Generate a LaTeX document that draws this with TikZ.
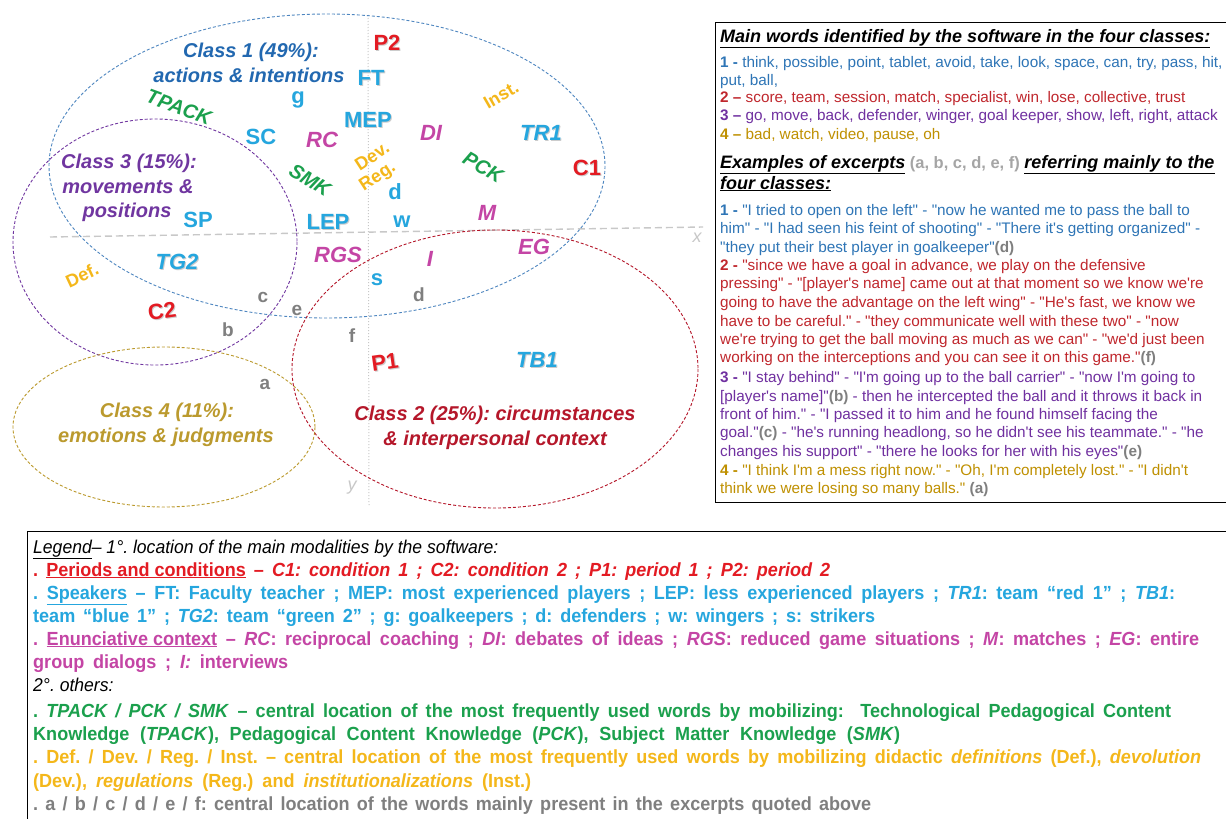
\documentclass[tikz,border=0pt]{standalone}
\usepackage{fontspec}
\setmainfont{Liberation Sans}[Ligatures=TeXOff]
\newfontfamily\narrowfont{Liberation Sans}[FakeStretch=0.95,Ligatures=TeXOff]
\definecolor{cOneBlue}{HTML}{2268B0}
\definecolor{spkBlue}{HTML}{25A6DE}
\definecolor{perRed}{HTML}{E31B23}
\definecolor{enMag}{HTML}{C445A5}
\definecolor{knGreen}{HTML}{1BA04D}
\definecolor{didOr}{HTML}{F4B71A}
\definecolor{cThree}{HTML}{7036A0}
\definecolor{cFour}{HTML}{BB9A2E}
\definecolor{cTwo}{HTML}{B5172A}
\definecolor{exGray}{HTML}{7F7F7F}
\definecolor{rbBlue}{HTML}{2E75B6}
\definecolor{rbRed}{HTML}{C0272D}
\definecolor{rbPurple}{HTML}{7030A0}
\definecolor{rbGold}{HTML}{BF9000}
\definecolor{axGray}{HTML}{C8C8C8}
\newcommand{\shd}[1]{\makebox[0pt][l]{\kern1pt\raisebox{-1pt}{\textcolor{black!20}{#1}}}#1}
\newcommand{\lgline}[2]{\makebox[#1pt][s]{#2}}
\tikzset{
  cls/.style={font=\bfseries\itshape\fontsize{20}{25}\selectfont, align=center, inner sep=0pt},
  code/.style={font=\bfseries\fontsize{22}{24}\selectfont, inner sep=0pt},
  codeit/.style={font=\bfseries\itshape\fontsize{22}{24}\selectfont, inner sep=0pt},
  did/.style={font=\bfseries\fontsize{18}{20}\selectfont, inner sep=0pt, text=didOr},
  know/.style={font=\bfseries\itshape\fontsize{20}{22}\selectfont, inner sep=0pt, text=knGreen},
  exl/.style={font=\bfseries\fontsize{19}{20}\selectfont, inner sep=0pt, text=exGray},
  classell/.style={dash pattern=on 3pt off 2pt, line width=0.9pt},
  rb/.style={anchor=base west, inner sep=0pt, font=\fontsize{15.3}{17}\selectfont},
  rbtitle/.style={anchor=base west, inner sep=0pt, font=\bfseries\itshape\fontsize{18}{20}\selectfont},
  lg/.style={anchor=base west, inner sep=0pt, font=\narrowfont\bfseries\fontsize{19}{21}\selectfont},
  lgit/.style={anchor=base west, inner sep=0pt, font=\narrowfont\itshape\fontsize{18.5}{21}\selectfont},
}
\begin{document}
\frenchspacing
\begin{tikzpicture}[x=1pt,y=-1pt]
\useasboundingbox (0,0) rectangle (1226,819);
\fill[white] (0,0) rectangle (1226,819);

% axes
\draw[axGray, line width=1.4pt, dash pattern=on 7pt off 4pt] (50,237) -- (703,227);
\draw[axGray, line width=1pt, dotted] (368,15) -- (369,505);
\node[font=\itshape\fontsize{18}{20}\selectfont, text=axGray] (xlab) at (697,238) {x};
\node[font=\itshape\fontsize{18}{20}\selectfont, text=axGray] (ylab) at (352,488) {y};

% class ellipses
\draw[classell, cOneBlue!80] (327,166) ellipse [x radius=278, y radius=152];
\draw[classell, cThree] (155,242) ellipse [x radius=142, y radius=123];
\draw[classell, cFour] (164,427) ellipse [x radius=151, y radius=80];
\draw[classell, cTwo] (495,369) ellipse [x radius=203, y radius=139];

% class titles
\node[cls, text=cOneBlue] (c1a) at (251,52) {Class 1 (49\%):};
\node[cls, text=cOneBlue] (c1b) at (249,75) {actions \& intentions};
\node[cls, text=cThree] (c3a) at (129,163) {Class 3 (15\%):};
\node[cls, text=cThree] (c3b) at (128,187) {movements \&};
\node[cls, text=cThree] (c3c) at (127,212) {positions};
\node[cls, text=cFour] (c4a) at (167,412) {Class 4 (11\%):};
\node[cls, text=cFour] (c4b) at (166,437) {emotions \& judgments};
\node[cls, text=cTwo] (c2a) at (495,415) {Class 2 (25\%): circumstances};
\node[cls, text=cTwo] (c2b) at (495,440) {\& interpersonal context};

% periods and conditions
\node[code, text=perRed] (P2) at (387,43) {\shd{P2}};
\node[code, text=perRed] (C1) at (587,168) {\shd{C1}};
\node[code, text=perRed, rotate=8] (C2) at (162,312) {\shd{C2}};
\node[code, text=perRed, rotate=8] (P1) at (385,363) {\shd{P1}};

% speakers
\node[code, text=spkBlue] (FT) at (371,78) {\shd{FT}};
\node[code, text=spkBlue] (g) at (298,100) {g};
\node[code, text=spkBlue] (MEP) at (368,120) {\shd{MEP}};
\node[code, text=spkBlue] (SC) at (261,137) {SC};
\node[code, text=spkBlue] (d) at (395,192) {d};
\node[code, text=spkBlue] (SP) at (198,220) {SP};
\node[code, text=spkBlue] (LEP) at (328,222) {\shd{LEP}};
\node[code, text=spkBlue] (w) at (402,222) {w};
\node[code, text=spkBlue] (s) at (377,280) {s};
\node[codeit, text=spkBlue] (TR1) at (541,133) {\shd{TR1}};
\node[codeit, text=spkBlue] (TG2) at (177,262) {\shd{TG2}};
\node[codeit, text=spkBlue] (TB1) at (537,360) {\shd{TB1}};

% enunciative context
\node[codeit, text=enMag] (RC) at (322,140) {RC};
\node[codeit, text=enMag] (DI) at (431,133) {DI};
\node[codeit, text=enMag] (M) at (487,213) {M};
\node[codeit, text=enMag] (EG) at (534,247) {EG};
\node[codeit, text=enMag] (RGS) at (338,255) {RGS};
\node[codeit, text=enMag] (I) at (430,259) {I};

% knowledge
\node[know, rotate=-20] (TPACK) at (179,107) {TPACK};
\node[know, rotate=-32] (SMK) at (310,180) {SMK};
\node[know, rotate=-30] (PCK) at (483,167) {PCK};

% didactic
\node[did, rotate=30] (Inst) at (501,95) {Inst.};
\node[did, rotate=33] (Dev) at (372,156) {Dev.};
\node[did, rotate=33] (Reg) at (378,177) {Reg.};
\node[did, rotate=25] (Def) at (82,275) {Def.};

% excerpt letters
\node[exl] (la) at (265,384) {a};
\node[exl] (lb) at (228,330) {b};
\node[exl] (lc) at (263,297) {c};
\node[exl] (ld) at (419,295) {d};
\node[exl] (le) at (297,310) {e};
\node[exl] (lf) at (352,336) {f};

% right box
\draw[black, line width=0.8pt] (1226,22) -- (715,22) -- (715,502) -- (1226,502);
\node[rbtitle] (rt1) at (720,42) {\underline{Main words identified by the software in the four classes:}};
\node[rb, text=rbBlue] (r1) at (720,67) {\textbf{1 -} think, possible, point, tablet, avoid, take, look, space, can, try, pass, hit,};
\node[rb, text=rbBlue] (r1b) at (720,85) {put, ball,};
\node[rb, text=rbRed] (r2) at (720,102) {\textbf{2 –} score, team, session, match, specialist, win, lose, collective, trust};
\node[rb, text=rbPurple] (r3) at (720,120) {\textbf{3 –} go, move, back, defender, winger, goal keeper, show, left, right, attack};
\node[rb, text=rbGold] (r4) at (720,139) {\textbf{4 –} bad, watch, video, pause, oh};
\node[rbtitle] (rt2) at (720,168) {\underline{Examples of excerpts}\textcolor{exGray!70}{\upshape\fontsize{16.5}{18}\selectfont\ (a, b, c, d, e, f)\ }\underline{referring mainly to the}};
\node[rbtitle] (rt3) at (720,189) {\underline{four classes:}};
\node[rb, text=rbBlue] (e1a) at (720,215) {\textbf{1 -} "I tried to open on the left" - "now he wanted me to pass the ball to};
\node[rb, text=rbBlue] (e1b) at (720,233) {him" - "I had seen his feint of shooting" - "There it's getting organized" -};
\node[rb, text=rbBlue] (e1c) at (720,252) {"they put their best player in goalkeeper"\textcolor{exGray}{\textbf{(d)}}};
\node[rb, text=rbRed] (e2a) at (720,270) {\textbf{2 -} "since we have a goal in advance, we play on the defensive};
\node[rb, text=rbRed] (e2b) at (720,288) {pressing" - "[player's name] came out at that moment so we know we're};
\node[rb, text=rbRed] (e2c) at (720,307) {going to have the advantage on the left wing" - "He's fast, we know we};
\node[rb, text=rbRed] (e2d) at (720,326) {have to be careful." - "they communicate well with these two" - "now};
\node[rb, text=rbRed] (e2e) at (720,344) {we're trying to get the ball moving as much as we can" - "we'd just been};
\node[rb, text=rbRed] (e2f) at (720,362) {working on the interceptions and you can see it on this game."\textcolor{exGray}{\textbf{(f)}}};
\node[rb, text=rbPurple] (e3a) at (720,382) {\textbf{3 -} "I stay behind" - "I'm going up to the ball carrier" - "now I'm going to};
\node[rb, text=rbPurple] (e3b) at (720,401) {[player's name]"\textcolor{exGray}{\textbf{(b)}} - then he intercepted the ball and it throws it back in};
\node[rb, text=rbPurple] (e3c) at (720,419) {front of him." - "I passed it to him and he found himself facing the};
\node[rb, text=rbPurple] (e3d) at (720,437) {goal."\textcolor{exGray}{\textbf{(c)}} - "he's running headlong, so he didn't see his teammate." - "he};
\node[rb, text=rbPurple] (e3e) at (720,456) {changes his support" - "there he looks for her with his eyes"\textcolor{exGray}{\textbf{(e)}}};
\node[rb, text=rbGold] (e4a) at (720,475) {\textbf{4 -} "I think I'm a mess right now." - "Oh, I'm completely lost." - "I didn't};
\node[rb, text=rbGold] (e4b) at (720,493) {think we were losing so many balls." \textcolor{exGray}{\textbf{(a)}}};

% legend box
\draw[black, line width=0.8pt] (1226,531) -- (27,531) -- (27,819);
\node[lgit] (L1) at (33,553) {\underline{Legend}– 1°. location of the main modalities by the software:};
\node[lg, text=perRed] (L2) at (33,576) {\lgline{797}{. \underline{Periods and conditions} – \textit{C1: condition 1 ; C2: condition 2 ; P1: period 1 ; P2: period 2}}};
\node[lg, text=spkBlue] (L3) at (33,599) {\lgline{1142}{. \underline{Speakers} – FT: Faculty teacher ; MEP: most experienced players ; LEP: less experienced players ; \textit{TR1}: team “red 1” ; \textit{TB1}:}};
\node[lg, text=spkBlue] (L4) at (33,622) {\lgline{842}{team “blue 1” ; \textit{TG2}: team “green 2” ; g: goalkeepers ; d: defenders ; w: wingers ; s: strikers}};
\node[lg, text=enMag] (L5) at (33,645) {\lgline{1166}{. \underline{Enunciative context} – \textit{RC}: reciprocal coaching ; \textit{DI}: debates of ideas ; \textit{RGS}: reduced game situations ; \textit{M}: matches ; \textit{EG}: entire}};
\node[lg, text=enMag] (L6) at (33,668) {\lgline{255}{group dialogs ; \textit{I:} interviews}};
\node[lgit] (L7) at (33,691) {2°. others:};
\node[lg, text=knGreen] (L8) at (33,717) {\lgline{1138}{. \textit{TPACK / PCK / SMK} – central location of the most frequently used words by mobilizing:\ \ Technological Pedagogical Content}};
\node[lg, text=knGreen] (L9) at (33,740) {\lgline{867}{Knowledge (\textit{TPACK}), Pedagogical Content Knowledge (\textit{PCK}), Subject Matter Knowledge (\textit{SMK})}};
\node[lg, text=didOr] (L10) at (33,763) {\lgline{1168}{. Def. / Dev. / Reg. / Inst. – central location of the most frequently used words by mobilizing didactic \textit{definitions} (Def.), \textit{devolution}}};
\node[lg, text=didOr] (L11) at (33,787) {\lgline{498}{(Dev.), \textit{regulations} (Reg.) and \textit{institutionalizations} (Inst.)}};
\node[lg, text=exGray] (L12) at (33,810) {\lgline{838}{. a / b / c / d / e / f: central location of the words mainly present in the excerpts quoted above}};
\end{tikzpicture}
\end{document}
